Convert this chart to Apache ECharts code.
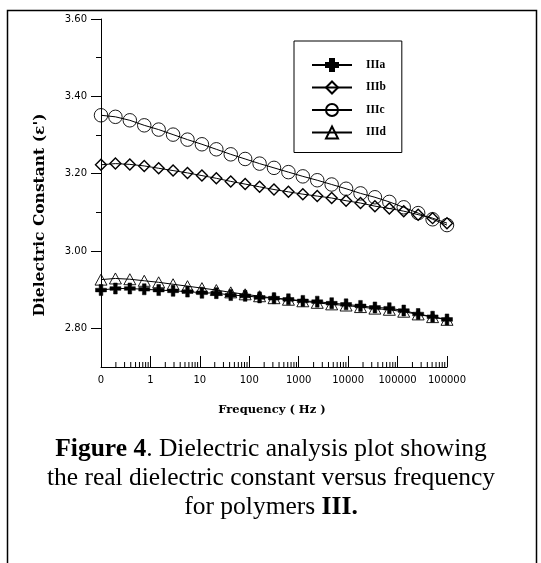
<!DOCTYPE html>
<html><head><meta charset="utf-8">
<script src="https://cdn.jsdelivr.net/npm/echarts@6/dist/echarts.min.js"></script>
<style>html,body{margin:0;padding:0;background:#fff}#c{width:541px;height:563px}</style>
</head><body><div id="c"></div>
<script>
const frequencies = [0.1, 0.1957, 0.3831, 0.7499, 1.468, 2.873, 5.623, 11.01, 21.54, 42.17, 82.54, 161.6, 316.2, 619, 1212, 2371, 4642, 9085, 17783, 34807, 68129, 133352, 261016, 510897, 1000000];

// Dielectric constant per polymer
const IIIa = [2.899, 2.903, 2.903, 2.901, 2.899, 2.897, 2.895, 2.892, 2.891, 2.886, 2.884, 2.880, 2.878, 2.875, 2.871, 2.869, 2.865, 2.862, 2.858, 2.854, 2.852, 2.846, 2.837, 2.830, 2.823];
const IIIb = [3.223, 3.226, 3.224, 3.220, 3.214, 3.208, 3.202, 3.195, 3.188, 3.180, 3.173, 3.166, 3.159, 3.153, 3.147, 3.142, 3.137, 3.130, 3.124, 3.116, 3.110, 3.103, 3.094, 3.085, 3.072];
const IIIc = [3.351, 3.347, 3.338, 3.325, 3.314, 3.301, 3.288, 3.276, 3.263, 3.250, 3.238, 3.226, 3.215, 3.204, 3.193, 3.183, 3.172, 3.161, 3.149, 3.139, 3.127, 3.113, 3.098, 3.082, 3.067];
const IIId = [2.926, 2.929, 2.927, 2.923, 2.919, 2.914, 2.909, 2.904, 2.899, 2.893, 2.888, 2.883, 2.878, 2.874, 2.870, 2.866, 2.862, 2.859, 2.855, 2.851, 2.848, 2.843, 2.836, 2.829, 2.822];

const seriesNames = ['IIIa', 'IIIb', 'IIIc', 'IIId'];

// Tick labels / tick values
const yMajorTicks = [2.8, 3.0, 3.2, 3.4, 3.6];
const yMinorTicks = [2.9, 3.1, 3.3, 3.5];
const xTickLabels = ['0', '1', '10', '100', '1000', '10000', '100000', '100000'];
const xMinorTicks = [
  0.2, 0.3, 0.4, 0.5, 0.6, 0.7, 0.8, 0.9,
  2, 3, 4, 5, 6, 7, 8, 9,
  20, 30, 40, 50, 60, 70, 80, 90,
  200, 300, 400, 500, 600, 700, 800, 900,
  2000, 3000, 4000, 5000, 6000, 7000, 8000, 9000,
  20000, 30000, 40000, 50000, 60000, 70000, 80000, 90000,
  200000, 300000, 400000, 500000, 600000, 700000, 800000, 900000
];

const yMin = 2.7, yMax = 3.6;

const chart = echarts.init(document.getElementById('c'), null, {renderer: 'canvas'});

function pairs(vals) { return frequencies.map((f, i) => [f, vals[i]]); }

const crossPath = 'path://M4,0H8V4H12V8H8V12H4V8H0V4H4Z';

const lineBase = {
  type: 'line',
  showSymbol: true,
  showAllSymbol: true,
  animation: false,
  lineStyle: {color: '#000', width: 1},
  emphasis: {disabled: true},
  z: 3
};

chart.setOption({
  animation: false,
  backgroundColor: '#fff',
  grid: {left: 101, right: 94, top: 19, bottom: 196, containLabel: false},
  xAxis: [{
    type: 'log',
    logBase: 10,
    min: 0.1,
    max: 1000000,
    splitNumber: 7,
    axisLine: {show: true, lineStyle: {color: '#000', width: 1}},
    axisTick: {show: true, inside: true, length: 11, lineStyle: {color: '#000', width: 1}},
    axisLabel: {
      color: '#000', fontFamily: 'DejaVu Sans', fontSize: 10, margin: 8,
      formatter: function (v) {
        const k = Math.round(Math.log10(v)) + 1;
        return xTickLabels[k] !== undefined ? xTickLabels[k] : '';
      }
    },
    splitLine: {show: false},
    minorTick: {show: false},
    minorSplitLine: {show: false}
  }],
  yAxis: [{
    type: 'value',
    min: yMin, max: yMax, interval: 0.1,
    position: 'left',
    axisLine: {show: true, lineStyle: {color: '#000', width: 1}},
    axisTick: {show: true, length: 10, customValues: yMajorTicks, lineStyle: {color: '#000', width: 1}},
    axisLabel: {customValues: yMajorTicks, color: '#000', fontFamily: 'DejaVu Sans', fontSize: 10, margin: 14,
      formatter: v => Number(v).toFixed(2)},
    splitLine: {show: false}
  }, {
    type: 'value',
    min: yMin, max: yMax, interval: 0.1,
    position: 'left', offset: 0,
    axisLine: {show: false},
    axisTick: {show: true, length: 5, customValues: yMinorTicks, lineStyle: {color: '#000', width: 1}},
    axisLabel: {show: false},
    splitLine: {show: false}
  }],
  legend: {
    data: seriesNames,
    orient: 'vertical',
    left: 294, top: 41,
    padding: [17, 16, 13, 17],
    itemWidth: 40, itemHeight: 15, itemGap: 8.5,
    borderColor: '#000', borderWidth: 1,
    backgroundColor: '#fff',
    selectedMode: false,
    textStyle: {fontFamily: 'Liberation Serif', fontWeight: 'bold', fontSize: 11.5, color: '#000', padding: [0, 0, 0, 9]}
  },
  series: [
    Object.assign({}, lineBase, {
      name: 'IIIa', data: pairs(IIIa), symbol: crossPath, symbolSize: 11, z: 4,
      itemStyle: {color: '#000', borderColor: '#000', borderWidth: 0.5}
    }),
    Object.assign({}, lineBase, {
      name: 'IIIb', data: pairs(IIIb), symbol: 'diamond', symbolSize: 11,
      itemStyle: {color: 'rgba(255,255,255,0)', borderColor: '#000', borderWidth: 1.4}
    }),
    Object.assign({}, lineBase, {
      name: 'IIIc', data: pairs(IIIc), symbol: 'circle', symbolSize: 13.5,
      itemStyle: {color: 'rgba(255,255,255,0)', borderColor: '#000', borderWidth: 0.9}
    }),
    Object.assign({}, lineBase, {
      name: 'IIId', data: pairs(IIId), symbol: 'triangle', symbolSize: [12, 11],
      itemStyle: {color: 'rgba(255,255,255,0)', borderColor: '#000', borderWidth: 0.9}
    }),
    {
      type: 'custom',
      name: 'minorTicks',
      silent: true,
      animation: false,
      xAxisIndex: 0, yAxisIndex: 0,
      data: xMinorTicks.map(f => [f, yMin]),
      encode: {x: 0, y: 1},
      renderItem: function (params, api) {
        const p = api.coord([api.value(0), api.value(1)]);
        return {
          type: 'line',
          shape: {x1: p[0], y1: p[1], x2: p[0], y2: p[1] - 5},
          style: {stroke: '#000', lineWidth: 1}
        };
      },
      z: 1
    }
  ],
  graphic: [
    {
      type: 'rect', silent: true, z: 0,
      shape: {x: 7.5, y: 10.5, width: 529, height: 600},
      style: {fill: 'none', stroke: '#000', lineWidth: 1.5}
    },
    {
      type: 'text', silent: true,
      x: 40, y: 215, rotation: Math.PI / 2,
      style: {
        text: "Dielectric Constant (ε')",
        font: 'bold 15.5px "DejaVu Serif"',
        fill: '#000', align: 'center', verticalAlign: 'middle'
      }
    },
    {
      type: 'text', silent: true,
      x: 272, y: 410,
      style: {
        text: 'Frequency ( Hz )',
        font: 'bold 11.5px "DejaVu Serif"',
        fill: '#000', align: 'center', verticalAlign: 'middle'
      }
    },
    {
      type: 'text', silent: true,
      x: 271, y: 478,
      style: {
        text: '{b|Figure 4}{n|. Dielectric analysis plot showing}\n{n|the real dielectric constant versus frequency}\n{n|for polymers }{b|III.}',
        align: 'center', verticalAlign: 'middle',
        fill: '#000',
        font: '25.5px "Liberation Serif"',
        lineHeight: 29,
        rich: {
          b: {fontFamily: 'Liberation Serif', fontSize: 25.5, fontWeight: 'bold', lineHeight: 29, fill: '#000'},
          n: {fontFamily: 'Liberation Serif', fontSize: 25.5, lineHeight: 29, fill: '#000'}
        }
      }
    }
  ]
});
</script>
</body></html>
